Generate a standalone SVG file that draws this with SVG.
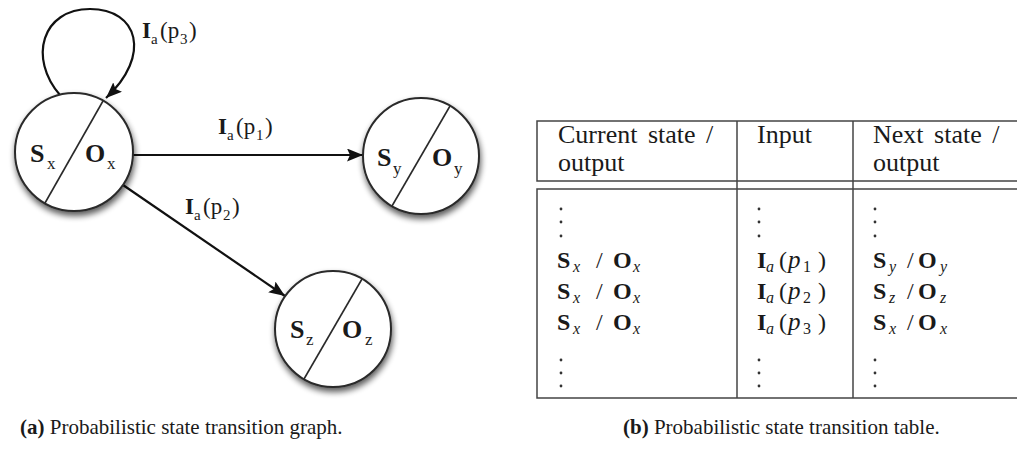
<svg xmlns="http://www.w3.org/2000/svg" width="1017" height="450" viewBox="0 0 1017 450">
<style>
text{font-family:"Liberation Serif","Times New Roman",serif;fill:#1a1a1a}
.nb{font-size:26px;font-weight:bold}
.ns{font-size:17px}
.lb{font-size:23px;font-weight:bold}
.lr{font-size:23px}
.ls{font-size:15px}
.node circle{fill:#fff;stroke:#2a2a2a;stroke-width:2}
.node line{stroke:#2a2a2a;stroke-width:1.6}
.edge{fill:none;stroke:#111;stroke-width:2.2}
.tl{stroke:#444;stroke-width:1.5;fill:none}
.th{font-size:26px;word-spacing:4px}
.mb{font-size:24px;font-weight:bold}
.mi{font-size:16px;font-style:italic}
.mr{font-size:24px}
.mp{font-size:25px;font-style:italic}
.md{font-size:16px}
.dot{fill:#333}
.cap{font-size:21px}
</style>
<defs>
<marker id="ah" markerUnits="userSpaceOnUse" markerWidth="17" markerHeight="13" refX="16" refY="6.5" orient="auto">
<path d="M0,0 L16,6.5 L0,13 L3,6.5 z" fill="#111"/>
</marker>
<filter id="sh" x="-30%" y="-30%" width="160%" height="175%">
<feGaussianBlur in="SourceAlpha" stdDeviation="3"/>
<feOffset dx="1" dy="4" result="b"/>
<feComponentTransfer><feFuncA type="linear" slope="0.65"/></feComponentTransfer>
<feMerge><feMergeNode/><feMergeNode in="SourceGraphic"/></feMerge>
</filter>
</defs>

<g id="connectors">
<path class="edge" d="M60,95 C28,58 42,9 90,9 C138,9 152,55 106,98" marker-end="url(#ah)"/>
<line class="edge" x1="133" y1="155" x2="363" y2="155" marker-end="url(#ah)"/>
<line class="edge" x1="123" y1="185" x2="285" y2="296" marker-end="url(#ah)"/>
<g id="label-p3"><text class="lb" x="142" y="38">I</text><text class="ls" x="151" y="44">a</text><text class="lr" x="160" y="38">(p</text><text class="ls" x="180" y="44">3</text><text class="lr" x="189" y="38">)</text></g>
<g id="label-p1"><text class="lb" x="218" y="134">I</text><text class="ls" x="227" y="140">a</text><text class="lr" x="236" y="134">(p</text><text class="ls" x="256" y="140">1</text><text class="lr" x="265" y="134">)</text></g>
<g id="label-p2"><text class="lb" x="185" y="214">I</text><text class="ls" x="194" y="220">a</text><text class="lr" x="203" y="214">(p</text><text class="ls" x="223" y="220">2</text><text class="lr" x="232" y="214">)</text></g>
</g>

<g id="node-x" class="node">
<circle cx="74" cy="152" r="59" filter="url(#sh)"/>
<line x1="103" y1="101" x2="45" y2="203"/>
<text class="nb" x="30" y="162">S</text><text class="ns" x="47" y="169">x</text>
<text class="nb" x="85" y="162">O</text><text class="ns" x="107" y="169">x</text>
</g>

<g id="node-y" class="node">
<circle cx="421" cy="156" r="58" filter="url(#sh)"/>
<line x1="450" y1="106" x2="392" y2="206"/>
<text class="nb" x="377" y="166">S</text><text class="ns" x="393" y="174">y</text>
<text class="nb" x="432" y="166">O</text><text class="ns" x="454" y="174">y</text>
</g>

<g id="node-z" class="node">
<circle cx="333" cy="329" r="58" filter="url(#sh)"/>
<line x1="362" y1="279" x2="304" y2="379"/>
<text class="nb" x="290" y="338">S</text><text class="ns" x="306" y="345">z</text>
<text class="nb" x="342" y="338">O</text><text class="ns" x="365" y="345">z</text>
</g>

<g id="table">
<path class="tl" d="M1017,121 H537 V181 H1017 M1017,189 H537 V398 H1017"/>
<line class="tl" x1="737" y1="121" x2="737" y2="398"/>
<line class="tl" x1="853" y1="121" x2="853" y2="398"/>
<text class="th" x="558" y="143">Current state /</text>
<text class="th" x="558" y="171">output</text>
<text class="th" x="757" y="143">Input</text>
<text class="th" x="873" y="143">Next state /</text>
<text class="th" x="873" y="171">output</text>

<g id="dots-top">
<circle class="dot" cx="561" cy="209" r="1.4"/><circle class="dot" cx="561" cy="222" r="1.4"/><circle class="dot" cx="561" cy="236" r="1.4"/>
<circle class="dot" cx="759" cy="209" r="1.4"/><circle class="dot" cx="759" cy="222" r="1.4"/><circle class="dot" cx="759" cy="236" r="1.4"/>
<circle class="dot" cx="875" cy="209" r="1.4"/><circle class="dot" cx="875" cy="222" r="1.4"/><circle class="dot" cx="875" cy="236" r="1.4"/>
</g>
<g id="dots-bottom">
<circle class="dot" cx="561" cy="360" r="1.4"/><circle class="dot" cx="561" cy="373" r="1.4"/><circle class="dot" cx="561" cy="386" r="1.4"/>
<circle class="dot" cx="759" cy="360" r="1.4"/><circle class="dot" cx="759" cy="373" r="1.4"/><circle class="dot" cx="759" cy="386" r="1.4"/>
<circle class="dot" cx="875" cy="360" r="1.4"/><circle class="dot" cx="875" cy="373" r="1.4"/><circle class="dot" cx="875" cy="386" r="1.4"/>
</g>

<g id="row1">
<text class="mb" x="557" y="268">S</text><text class="mi" x="573" y="272">x</text><text class="mr" x="596" y="268">/</text><text class="mb" x="613" y="268">O</text><text class="mi" x="633" y="272">x</text>
<text class="mb" x="757" y="268">I</text><text class="mi" x="766" y="272">a</text><text class="mr" x="779" y="268">(</text><text class="mp" x="788" y="268">p</text><text class="md" x="803" y="272">1</text><text class="mr" x="818" y="268">)</text>
<text class="mb" x="873" y="268">S</text><text class="mi" x="889" y="272">y</text><text class="mr" x="907" y="268">/</text><text class="mb" x="918" y="268">O</text><text class="mi" x="940" y="272">y</text>
</g>
<g id="row2">
<text class="mb" x="557" y="299">S</text><text class="mi" x="573" y="303">x</text><text class="mr" x="596" y="299">/</text><text class="mb" x="613" y="299">O</text><text class="mi" x="633" y="303">x</text>
<text class="mb" x="757" y="299">I</text><text class="mi" x="766" y="303">a</text><text class="mr" x="779" y="299">(</text><text class="mp" x="788" y="299">p</text><text class="md" x="803" y="303">2</text><text class="mr" x="818" y="299">)</text>
<text class="mb" x="873" y="299">S</text><text class="mi" x="889" y="303">z</text><text class="mr" x="907" y="299">/</text><text class="mb" x="918" y="299">O</text><text class="mi" x="940" y="303">z</text>
</g>
<g id="row3">
<text class="mb" x="557" y="330">S</text><text class="mi" x="573" y="334">x</text><text class="mr" x="596" y="330">/</text><text class="mb" x="613" y="330">O</text><text class="mi" x="633" y="334">x</text>
<text class="mb" x="757" y="330">I</text><text class="mi" x="766" y="334">a</text><text class="mr" x="779" y="330">(</text><text class="mp" x="788" y="330">p</text><text class="md" x="803" y="334">3</text><text class="mr" x="818" y="330">)</text>
<text class="mb" x="873" y="330">S</text><text class="mi" x="889" y="334">x</text><text class="mr" x="907" y="330">/</text><text class="mb" x="918" y="330">O</text><text class="mi" x="940" y="334">x</text>
</g>
</g>

<g id="captions">
<text class="cap" x="20" y="434"><tspan font-weight="bold">(a)</tspan> Probabilistic state transition graph.</text>
<text class="cap" x="623" y="434"><tspan font-weight="bold">(b)</tspan> Probabilistic state transition table.</text>
</g>
</svg>
